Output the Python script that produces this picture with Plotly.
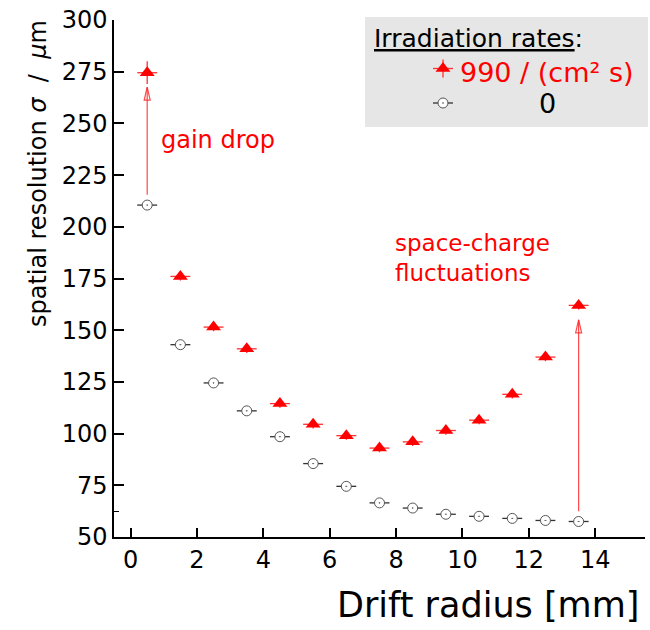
import plotly.graph_objects as go

# Drift radius bins [mm]
drift_radius = [0.5, 1.5, 2.5, 3.5, 4.5, 5.5, 6.5, 7.5, 8.5, 9.5, 10.5, 11.5, 12.5, 13.5]

# Spatial resolution [um] at an irradiation rate of 990 / (cm^2 s)
sigma_irradiated = [274.5, 176, 151.5, 141, 114.5, 104.5, 99, 93, 96, 101.5, 106.5, 119, 137, 162]
sigma_irradiated_err = [5.5, 2, 2, 2, 2, 2, 2, 2, 2, 2, 2, 2, 2, 2]

# Spatial resolution [um] without irradiation
sigma_reference = [210.5, 143, 124.5, 111, 98.5, 85.5, 74.5, 66.5, 64, 61, 60, 59, 58, 57.5]

bin_half_width = 0.3

x_ticks = [0, 2, 4, 6, 8, 10, 12, 14]
y_ticks = [50, 75, 100, 125, 150, 175, 200, 225, 250, 275, 300]

legend_title = "Irradiation rates"
legend_labels = ["990 / (cm² s)", "0"]

FONT = "DejaVu Sans"
RED = "#ff0000"
GREY = "#555555"

fig = go.Figure()

# measurement without irradiation: open circles with a centre dot
fig.add_trace(go.Scatter(
    x=drift_radius, y=sigma_reference, mode="markers",
    marker=dict(symbol="circle-dot", size=10, color="white",
                line=dict(color=GREY, width=1)),
    error_x=dict(type="constant", value=bin_half_width, width=0,
                 color="#333333", thickness=1.3),
    showlegend=False,
))

# measurement under irradiation: filled red triangles
fig.add_trace(go.Scatter(
    x=drift_radius, y=sigma_irradiated, mode="markers",
    marker=dict(symbol="triangle-up", size=13, color=RED),
    error_x=dict(type="constant", value=bin_half_width, width=0,
                 color="#ff3030", thickness=1.3),
    error_y=dict(type="data", array=sigma_irradiated_err, width=0,
                 color="#ff3030", thickness=1.3),
    showlegend=False,
))

# arrows linking the two rates at the inner and outer radius
shapes = []
for i in (0, len(drift_radius) - 1):
    x0 = drift_radius[i]
    y_start = sigma_reference[i] + 5
    y_tip = sigma_irradiated[i] - 7
    shapes.append(dict(type="line", xref="x", yref="y", x0=x0, x1=x0,
                       y0=y_start, y1=y_tip,
                       line=dict(color="rgba(255,40,40,0.85)", width=1.2)))
    shapes.append(dict(type="path", xref="x", yref="y",
                       xsizemode="pixel", ysizemode="pixel",
                       xanchor=x0, yanchor=y_tip,
                       path="M -3,-13 L 0,0 L 3,-13 Z",
                       fillcolor="rgba(0,0,0,0)",
                       line=dict(color="rgba(255,40,40,0.85)", width=1.2)))

# legend box
shapes.append(dict(type="rect", xref="paper", yref="paper",
                   x0=0.4727, x1=1.0057, y0=0.793, y1=1.0058,
                   fillcolor="#e6e6e6", line=dict(width=0), layer="below"))

# legend keys drawn on a hidden pixel-scaled overlay axis
fig.add_trace(go.Scatter(
    x=[443], y=[68.5], xaxis="x2", yaxis="y2", mode="markers",
    marker=dict(symbol="triangle-up", size=13, color=RED),
    error_x=dict(type="constant", value=10, width=0, color="#ff3030", thickness=1.3),
    error_y=dict(type="constant", value=9, width=0, color="#ff3030", thickness=1.3),
    showlegend=False, hoverinfo="skip",
))
fig.add_trace(go.Scatter(
    x=[443], y=[103], xaxis="x2", yaxis="y2", mode="markers",
    marker=dict(symbol="circle-dot", size=10, color="white",
                line=dict(color=GREY, width=1)),
    error_x=dict(type="constant", value=10, width=0, color="#333333", thickness=1.3),
    showlegend=False, hoverinfo="skip",
))

annotations = [
    dict(text=f"<u>{legend_title}</u>:", xref="paper", yref="paper",
         x=(372 - 114) / 531, y=(537 - 38) / 517, xanchor="left", yanchor="middle",
         showarrow=False, font=dict(family=FONT, size=25, color="black")),
    dict(text=legend_labels[0], xref="paper", yref="paper",
         x=(458 - 114) / 531, y=(537 - 73) / 517, xanchor="left", yanchor="middle",
         showarrow=False, font=dict(family=FONT, size=27, color=RED)),
    dict(text=legend_labels[1], xref="paper", yref="paper",
         x=(547 - 114) / 531, y=(537 - 103) / 517, xanchor="center", yanchor="middle",
         showarrow=False, font=dict(family=FONT, size=27, color="black")),
    dict(text="gain drop", xref="paper", yref="paper",
         x=(159 - 114) / 531, y=(537 - 140) / 517, xanchor="left", yanchor="middle",
         showarrow=False, font=dict(family=FONT, size=24, color=RED)),
    dict(text="space-charge<br>fluctuations", xref="paper", yref="paper",
         x=(393 - 114) / 531, y=(537 - 258) / 517, xanchor="left", yanchor="middle",
         align="left", showarrow=False, font=dict(family=FONT, size=23, color=RED)),
    dict(text="Drift radius [mm]", xref="paper", yref="paper",
         x=(641 - 114) / 531, y=(537 - 605) / 517, xanchor="right", yanchor="middle",
         showarrow=False, font=dict(family=FONT, size=35, color="black")),
    dict(text="spatial resolution <i>σ</i>  /  <i>μ</i>m", xref="paper", yref="paper",
         x=(38 - 114) / 531, y=(537 - 174) / 517, xanchor="center", yanchor="middle",
         textangle=-90, showarrow=False, font=dict(family=FONT, size=24, color="black")),
]

axis_common = dict(showgrid=False, zeroline=False, showline=True, linecolor="black",
                   linewidth=1.5, ticks="inside", tickcolor="black", tickwidth=1.5,
                   tickfont=dict(family=FONT, size=24, color="black"))

fig.update_layout(
    width=650, height=630,
    margin=dict(l=114, r=5, t=20, b=93),
    paper_bgcolor="white", plot_bgcolor="white",
    xaxis=dict(range=[-0.5, 15.5], tickvals=x_ticks, ticklen=9, **axis_common),
    yaxis=dict(range=[50, 300], tickvals=y_ticks, ticklen=10,
               minor=dict(tickvals=[62.5], ticklen=5, ticks="inside",
                          tickcolor="black", tickwidth=1.2),
               **axis_common),
    xaxis2=dict(overlaying="x", range=[114, 645], visible=False, fixedrange=True),
    yaxis2=dict(overlaying="y", range=[537, 20], visible=False, fixedrange=True),
    shapes=shapes,
    annotations=annotations,
    showlegend=False,
)

fig.write_html("out.html")
